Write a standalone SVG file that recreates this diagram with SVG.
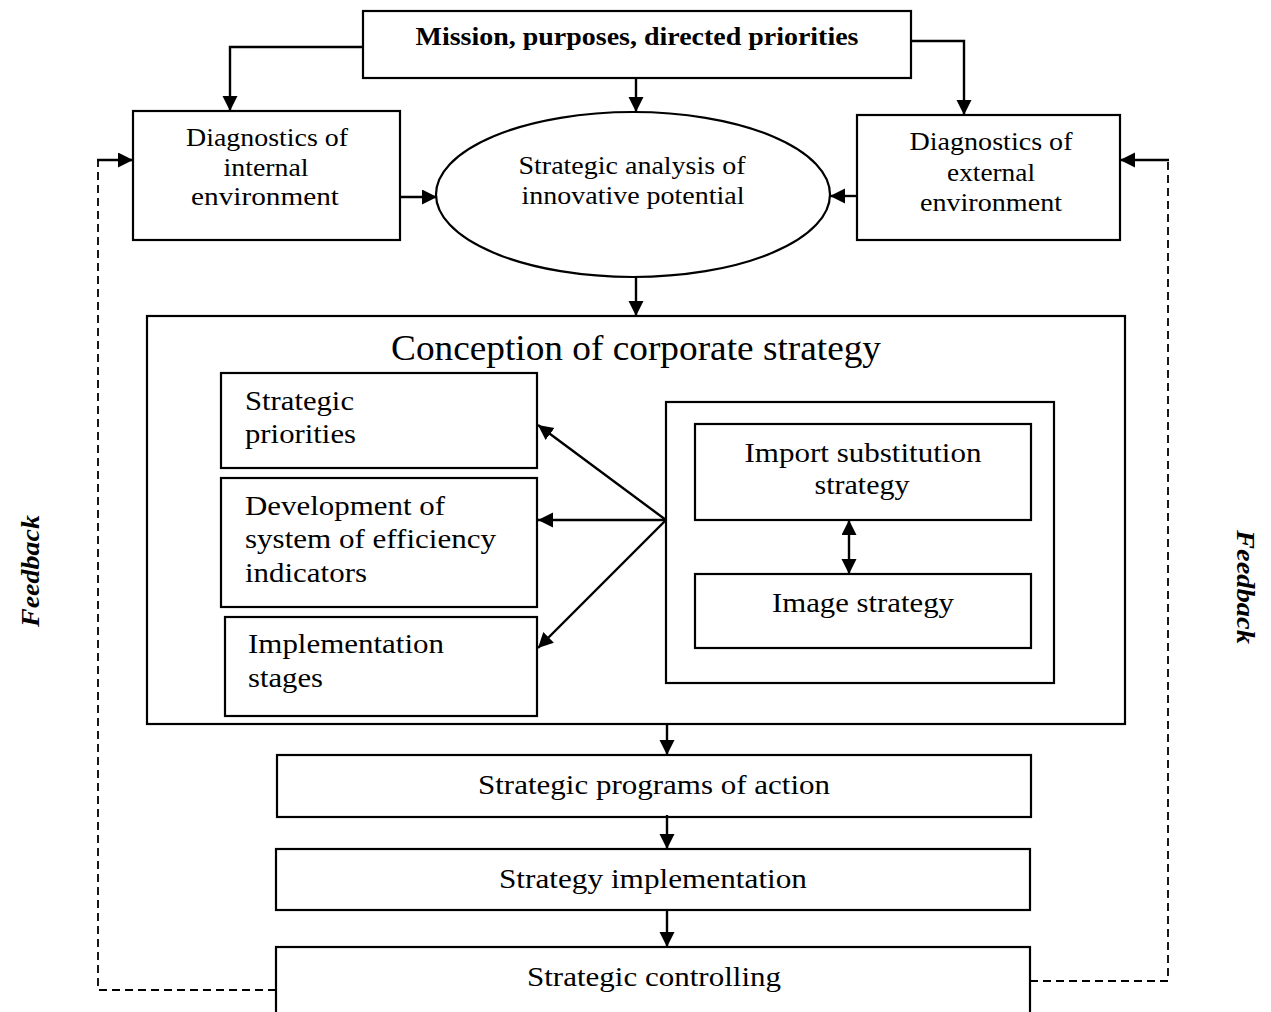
<svg xmlns="http://www.w3.org/2000/svg" width="1271" height="1012" viewBox="0 0 1271 1012">
  <style>
    .box { fill: #fff; stroke: #000; stroke-width: 2.2; }
    .t { font-family: "Liberation Serif", "Times New Roman", serif; fill: #000; }
    .c { text-anchor: middle; }
    .b { font-weight: bold; }
    .line { fill: none; stroke: #000; stroke-width: 2.4; }
    .dash { fill: none; stroke: #000; stroke-width: 1.8; stroke-dasharray: 8 5; }
  </style>
  <defs>
    <marker id="arr" markerUnits="userSpaceOnUse" markerWidth="16" markerHeight="16" refX="15" refY="7.5" orient="auto-start-reverse">
      <path d="M0,0 L15,7.5 L0,15 z" fill="#000"/>
    </marker>
  </defs>
  <rect width="1271" height="1012" fill="#fff"/>

  <g id="mission">
    <rect class="box" x="363" y="11" width="548" height="67"/>
    <text class="t c b" x="637" y="45" font-size="25" textLength="443" lengthAdjust="spacingAndGlyphs">Mission, purposes, directed priorities</text>
  </g>

  <g id="diag-internal">
    <rect class="box" x="133" y="111" width="267" height="129"/>
    <text class="t c" x="267" y="146" font-size="25" textLength="162" lengthAdjust="spacingAndGlyphs">Diagnostics of</text>
    <text class="t c" x="266" y="176" font-size="25" textLength="85" lengthAdjust="spacingAndGlyphs">internal</text>
    <text class="t c" x="265" y="205" font-size="25" textLength="148" lengthAdjust="spacingAndGlyphs">environment</text>
  </g>

  <g id="analysis">
    <ellipse class="box" cx="633" cy="194.5" rx="197" ry="82.5"/>
    <text class="t c" x="632" y="174" font-size="25" textLength="227" lengthAdjust="spacingAndGlyphs">Strategic analysis of</text>
    <text class="t c" x="633" y="204" font-size="25" textLength="223" lengthAdjust="spacingAndGlyphs">innovative potential</text>
  </g>

  <g id="diag-external">
    <rect class="box" x="857" y="115" width="263" height="125"/>
    <text class="t c" x="991" y="150" font-size="25" textLength="163" lengthAdjust="spacingAndGlyphs">Diagnostics of</text>
    <text class="t c" x="991" y="181" font-size="25" textLength="88" lengthAdjust="spacingAndGlyphs">external</text>
    <text class="t c" x="991" y="211" font-size="25" textLength="142" lengthAdjust="spacingAndGlyphs">environment</text>
  </g>

  <g id="conception">
    <rect class="box" x="147" y="316" width="978" height="408"/>
    <text class="t c" x="636" y="360" font-size="35" textLength="490" lengthAdjust="spacingAndGlyphs">Conception of corporate strategy</text>
  </g>

  <g id="priorities">
    <rect class="box" x="221" y="373" width="316" height="95"/>
    <text class="t" x="245" y="410" font-size="27" textLength="109" lengthAdjust="spacingAndGlyphs">Strategic</text>
    <text class="t" x="245" y="443" font-size="27" textLength="111" lengthAdjust="spacingAndGlyphs">priorities</text>
  </g>

  <g id="indicators">
    <rect class="box" x="221" y="478" width="316" height="129"/>
    <text class="t" x="245" y="515" font-size="27" textLength="200" lengthAdjust="spacingAndGlyphs">Development of</text>
    <text class="t" x="245" y="548" font-size="27" textLength="251" lengthAdjust="spacingAndGlyphs">system of efficiency</text>
    <text class="t" x="245" y="582" font-size="27" textLength="122" lengthAdjust="spacingAndGlyphs">indicators</text>
  </g>

  <g id="stages">
    <rect class="box" x="225" y="617" width="312" height="99"/>
    <text class="t" x="248" y="653" font-size="27" textLength="196" lengthAdjust="spacingAndGlyphs">Implementation</text>
    <text class="t" x="248" y="687" font-size="27" textLength="75" lengthAdjust="spacingAndGlyphs">stages</text>
  </g>

  <g id="strategy-group">
    <rect class="box" x="666" y="402" width="388" height="281"/>
  </g>

  <g id="import-substitution">
    <rect class="box" x="695" y="424" width="336" height="96"/>
    <text class="t c" x="863" y="462" font-size="27" textLength="237" lengthAdjust="spacingAndGlyphs">Import substitution</text>
    <text class="t c" x="862" y="494" font-size="27" textLength="95" lengthAdjust="spacingAndGlyphs">strategy</text>
  </g>

  <g id="image-strategy">
    <rect class="box" x="695" y="574" width="336" height="74"/>
    <text class="t c" x="863" y="612" font-size="27" textLength="182" lengthAdjust="spacingAndGlyphs">Image strategy</text>
  </g>

  <g id="programs">
    <rect class="box" x="277" y="755" width="754" height="62"/>
    <text class="t c" x="654" y="794" font-size="28" textLength="352" lengthAdjust="spacingAndGlyphs">Strategic programs of action</text>
  </g>

  <g id="implementation">
    <rect class="box" x="276" y="849" width="754" height="61"/>
    <text class="t c" x="653" y="888" font-size="28" textLength="308" lengthAdjust="spacingAndGlyphs">Strategy implementation</text>
  </g>

  <g id="controlling">
    <rect class="box" x="276" y="947" width="754" height="80"/>
    <text class="t c" x="654" y="986" font-size="28" textLength="254" lengthAdjust="spacingAndGlyphs">Strategic controlling</text>
  </g>

  <g id="feedback-labels">
    <text class="t c b" font-style="italic" font-size="26" transform="translate(39 571) rotate(-90)" textLength="112" lengthAdjust="spacingAndGlyphs">Feedback</text>
    <text class="t c b" font-style="italic" font-size="26" transform="translate(1237 587) rotate(90)" textLength="114" lengthAdjust="spacingAndGlyphs">Feedback</text>
  </g>

  <g id="connectors">
    <!-- from the mission box -->
    <polyline class="line" points="363,47 230,47 230,111" marker-end="url(#arr)"/>
    <line class="line" x1="636" y1="78" x2="636" y2="112" marker-end="url(#arr)"/>
    <polyline class="line" points="911,41 964,41 964,115" marker-end="url(#arr)"/>
    <!-- diagnostics into the analysis -->
    <line class="line" x1="400" y1="197" x2="437" y2="197" marker-end="url(#arr)"/>
    <line class="line" x1="857" y1="196" x2="830" y2="196" marker-end="url(#arr)"/>
    <!-- analysis into the conception -->
    <line class="line" x1="636" y1="277" x2="636" y2="316" marker-end="url(#arr)"/>
    <!-- fan-out inside the conception -->
    <line class="line" x1="666" y1="520" x2="538" y2="425" marker-end="url(#arr)"/>
    <line class="line" x1="666" y1="520" x2="538" y2="520" marker-end="url(#arr)"/>
    <line class="line" x1="666" y1="520" x2="538" y2="648" marker-end="url(#arr)"/>
    <line class="line" x1="849" y1="520" x2="849" y2="574" marker-start="url(#arr)" marker-end="url(#arr)"/>
    <!-- main vertical flow -->
    <line class="line" x1="667" y1="724" x2="667" y2="755" marker-end="url(#arr)"/>
    <line class="line" x1="667" y1="815" x2="667" y2="849" marker-end="url(#arr)"/>
    <line class="line" x1="667" y1="910" x2="667" y2="947" marker-end="url(#arr)"/>
    <!-- feedback loops -->
    <polyline class="dash" points="276,990 98,990 98,160"/>
    <line class="line" x1="97" y1="160" x2="133" y2="160" marker-end="url(#arr)"/>
    <polyline class="dash" points="1030,981 1168,981 1168,160"/>
    <line class="line" x1="1169" y1="160" x2="1120" y2="160" marker-end="url(#arr)"/>
  </g>
</svg>
